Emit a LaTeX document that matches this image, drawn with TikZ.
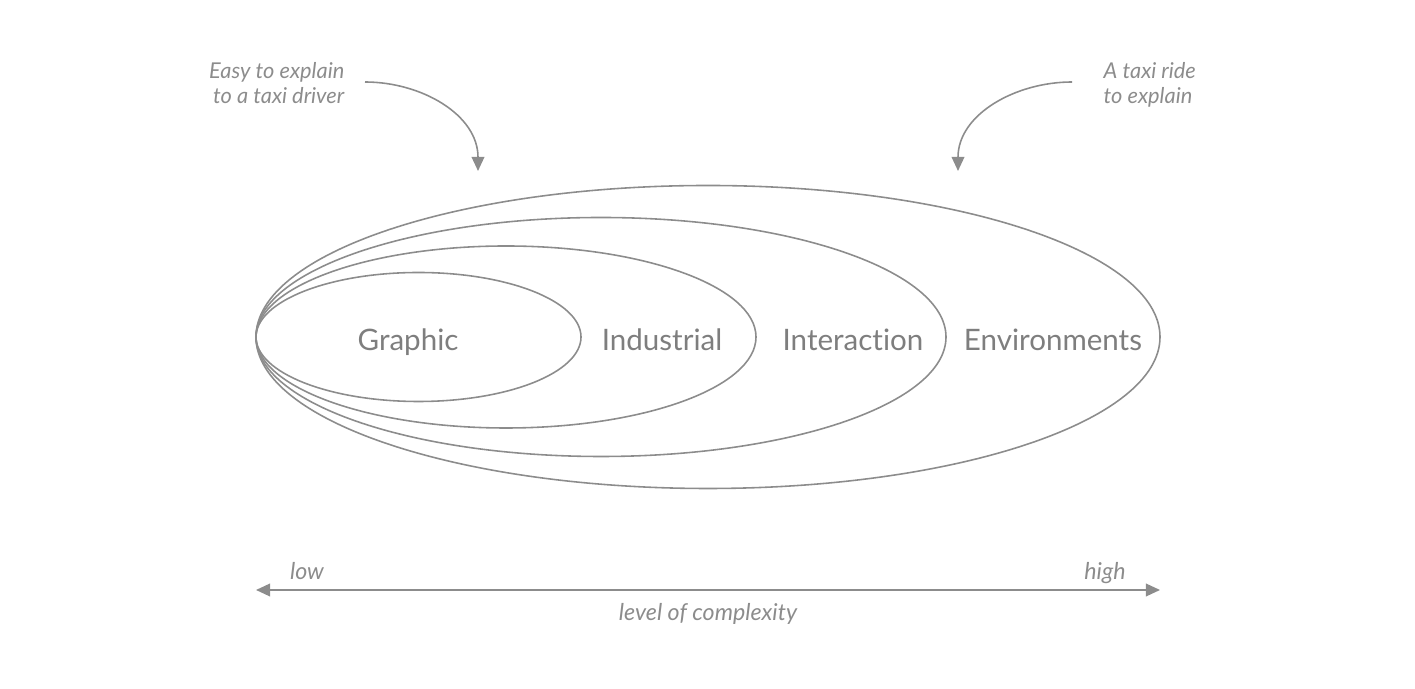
\documentclass[tikz,border=0pt]{standalone}
\usepackage{fontspec}
\setmainfont{Lato}[Ligatures={NoCommon}]
\usepackage{tikz}
\usetikzlibrary{arrows.meta}
\usetikzlibrary{positioning}
\usepackage{xcolor}
\definecolor{linegray}{HTML}{8C8C8C}
\definecolor{textgray}{HTML}{7E7E7E}

\tikzset{
    field/.style={draw=linegray, line width=0.45pt},
    fieldlabel/.style={text=textgray, anchor=base, font=\fontsize{8.4}{10}\selectfont},
    note/.style={text=linegray, font=\fontsize{6.2}{7.1}\selectfont\itshape},
    axislabel/.style={note, anchor=base, font=\fontsize{6.6}{8}\selectfont\itshape},
    pointer/.style={draw=linegray, line width=0.45pt, -{Triangle[length=4pt, width=3.6pt]}},
}

\begin{document}
\begin{tikzpicture}[x=0.01cm, y=-0.01cm]
    % 0. Fix the page size
    \useasboundingbox (0,0) rectangle (1415,689);

    % 1. Draw the nested fields, all touching at the left
    \draw[field] (418.5,337) ellipse [x radius=162.5, y radius=64.5];
    \draw[field] (506,337) ellipse [x radius=250, y radius=91];
    \draw[field] (601,337) ellipse [x radius=345, y radius=119.5];
    \draw[field] (708,337) ellipse [x radius=452, y radius=151.5];

    % 2. Name the fields
    \node[fieldlabel] (graphic) at (408,351) {Graphic};
    \node[fieldlabel] (industrial) at (662,351) {Industrial};
    \node[fieldlabel] (interaction) at (853,351) {Interaction};
    \node[fieldlabel] (environments) at (1053,351) {Environments};

    % 3. Notes at the top with their curved arrows
    \node[note, align=right, anchor=north east, inner sep=0pt] (easy) at (345,62) {Easy to explain\\to a taxi driver};
    \coordinate (easytip) at (478,171);
    \draw[pointer] (easy.north east) ++(20,20) coordinate (easystart) to[out=0, in=90] (easytip);

    \node[note, align=left, anchor=north west, inner sep=0pt] (ride) at (1103,62) {A taxi ride\\to explain};
    \coordinate (ridetip) at (958,171);
    \draw[pointer] (ride.north west) ++(-31,20) coordinate (ridestart) to[out=180, in=90] (ridetip);

    % 4. Complexity axis at the bottom
    \coordinate (lowend) at (256,590);
    \coordinate (highend) at (1160,590);
    \draw[pointer, {Triangle[length=4pt, width=3.6pt]}-{Triangle[length=4pt, width=3.6pt]}] (lowend) -- (highend);
    \node[axislabel] (low) at (307,580) {low};
    \node[axislabel] (high) at (1105,580) {high};
    \node[axislabel] (level) at (708,621) {level of complexity};

\end{tikzpicture}
\end{document}
